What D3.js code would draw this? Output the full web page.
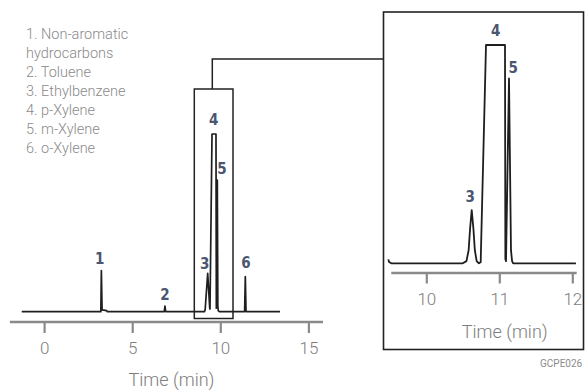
<!DOCTYPE html>
<html>
<head>
<meta charset="utf-8">
<script src="https://cdn.jsdelivr.net/npm/d3@7"></script>
<style>
  html, body { margin: 0; padding: 0; background: #fff; }
  svg { display: block; }
</style>
</head>
<body>
<svg id="chart" width="588" height="391"></svg>
<script>
// Compound list
const compounds = [
  "1. Non-aromatic",
  "hydrocarbons",
  "2. Toluene",
  "3. Ethylbenzene",
  "4. p-Xylene",
  "5. m-Xylene",
  "6. o-Xylene"
];

// Full chromatogram trace: [time (min), detector signal]
const fullTrace = [
  [-1.27, 0], [3.22, 0], [3.25, 23.1], [3.29, 1], [3.55, 0.6], [3.58, 0],
  [6.82, 0], [6.86, 3.2], [6.90, 0],
  [9.10, 0], [9.14, 1], [9.285, 21.6], [9.40, 2], [9.415, 1.5],
  [9.53, 100], [9.755, 100], [9.775, 2], [9.80, 3], [9.83, 74.1], [9.86, 3], [9.89, 0.5], [9.95, 0],
  [11.38, 0], [11.42, 19.7], [11.46, 0],
  [13.39, 0]
];

// Expanded xylene region trace: [time (min), detector signal]
const zoomTrace = [
  [9.48, 1.8], [9.49, 0.6], [9.52, 0],
  [10.50, 0], [10.55, 1], [10.58, 6], [10.60, 16], [10.622, 24.4], [10.645, 16], [10.665, 6], [10.69, 1], [10.72, 0],
  [10.745, 0.5], [10.818, 100], [11.078, 100], [11.083, 2], [11.092, 1],
  [11.133, 84.7], [11.16, 6], [11.175, 1], [11.19, 0],
  [12.05, 0]
];

// Peak labels: [label, time, signal at label baseline]
const fullPeakLabels = [
  ["1", 3.16, 27.0], ["2", 6.86, 6.5], ["3", 9.12, 24.2],
  ["4", 9.63, 104.8], ["5", 10.10, 77.7], ["6", 11.46, 24.6]
];
const zoomPeakLabels = [
  ["3", 10.60, 28.2], ["4", 10.95, 104.3], ["5", 11.19, 87.3]
];

const fullTicks = [0, 5, 10, 15];
const zoomTicks = [10, 11, 12];
const axisTitle = "Time (min)";
const figureCode = "GCPE026";

const svg = d3.select("#chart");
const labelFont = "'Roboto', 'Liberation Sans', sans-serif";
const peakFont = "'Liberation Sans Narrow', 'DejaVu Sans Condensed', sans-serif";
const traceColor = "#1e1e1e";
const axisColor = "#8a8a8a";
const textColor = "#7d7d7d";
const peakColor = "#4b5670";

// ---------- Full chromatogram ----------
const xFull = d3.scaleLinear().domain([0, 15]).range([44.1, 308.4]);
const yFull = d3.scaleLinear().domain([0, 100]).range([311.7, 134]);

const fullAxis = d3.axisBottom(xFull).tickValues(fullTicks).tickSize(11).tickPadding(9).tickFormat(d3.format("d"));
const gFullAxis = svg.append("g").attr("transform", "translate(0,322)").call(fullAxis);
gFullAxis.select(".domain").remove();
gFullAxis.selectAll(".tick line").attr("stroke", axisColor).attr("stroke-width", 2.2);
gFullAxis.selectAll(".tick text")
  .attr("fill", textColor).attr("font-family", labelFont).attr("font-weight", 300)
  .attr("font-size", 17);
gFullAxis.append("line")
  .attr("x1", xFull(-1.94)).attr("x2", xFull(15.83)).attr("y1", 0).attr("y2", 0)
  .attr("stroke", axisColor).attr("stroke-width", 2.4);

svg.append("text")
  .attr("x", (xFull(-1.94) + xFull(15.83)) / 2 + 5).attr("y", 386)
  .attr("text-anchor", "middle").attr("fill", textColor)
  .attr("font-family", labelFont).attr("font-weight", 300).attr("font-size", 18)
  .text(axisTitle);

const lineFull = d3.line().x(d => xFull(d[0])).y(d => yFull(d[1]));
svg.append("path").datum(fullTrace)
  .attr("d", lineFull).attr("fill", "none")
  .attr("stroke", traceColor).attr("stroke-width", 1.7).attr("stroke-linejoin", "round");

svg.selectAll("text.fullpeak").data(fullPeakLabels).join("text")
  .attr("class", "fullpeak")
  .attr("x", d => xFull(d[1])).attr("y", d => yFull(d[2]))
  .attr("text-anchor", "middle").attr("fill", peakColor)
  .attr("font-family", peakFont).attr("font-weight", 700).attr("font-size", 15)
  .text(d => d[0]);

// Highlight box around the xylene cluster and its connector to the expanded view
svg.append("rect")
  .attr("x", 194.3).attr("y", 89).attr("width", 38.7).attr("height", 229.5)
  .attr("fill", "none").attr("stroke", "#222").attr("stroke-width", 1.5);
svg.append("path")
  .attr("d", "M212.3,89 V59 H383.5")
  .attr("fill", "none").attr("stroke", "#222").attr("stroke-width", 1.5);

// ---------- Expanded view ----------
svg.append("rect")
  .attr("x", 383.5).attr("y", 12).attr("width", 200).attr("height", 337.5)
  .attr("fill", "#fff").attr("stroke", "#222").attr("stroke-width", 1.6);

const xZoom = d3.scaleLinear().domain([10, 12]).range([426.3, 572.3]);
const yZoom = d3.scaleLinear().domain([0, 100]).range([263.3, 45]);

const zoomAxis = d3.axisBottom(xZoom).tickValues(zoomTicks).tickSize(10.5).tickPadding(9).tickFormat(d3.format("d"));
const gZoomAxis = svg.append("g").attr("transform", "translate(0,273)").call(zoomAxis);
gZoomAxis.select(".domain").remove();
gZoomAxis.selectAll(".tick line").attr("stroke", axisColor).attr("stroke-width", 2.2);
gZoomAxis.selectAll(".tick text")
  .attr("fill", textColor).attr("font-family", labelFont).attr("font-weight", 300)
  .attr("font-size", 17);
gZoomAxis.append("line")
  .attr("x1", xZoom(9.52)).attr("x2", xZoom(12.06)).attr("y1", 0).attr("y2", 0)
  .attr("stroke", axisColor).attr("stroke-width", 2.4);

svg.append("text")
  .attr("x", 504.7).attr("y", 337.5)
  .attr("text-anchor", "middle").attr("fill", textColor)
  .attr("font-family", labelFont).attr("font-weight", 300).attr("font-size", 18)
  .text(axisTitle);

const lineZoom = d3.line().x(d => xZoom(d[0])).y(d => yZoom(d[1]));
svg.append("path").datum(zoomTrace)
  .attr("d", lineZoom).attr("fill", "none")
  .attr("stroke", traceColor).attr("stroke-width", 1.8).attr("stroke-linejoin", "round");

svg.selectAll("text.zoompeak").data(zoomPeakLabels).join("text")
  .attr("class", "zoompeak")
  .attr("x", d => xZoom(d[1])).attr("y", d => yZoom(d[2]))
  .attr("text-anchor", "middle").attr("fill", peakColor)
  .attr("font-family", peakFont).attr("font-weight", 700).attr("font-size", 15)
  .text(d => d[0]);

// ---------- Compound list ----------
svg.append("g").selectAll("text").data(compounds).join("text")
  .attr("x", 26).attr("y", (d, i) => 39 + i * 18.95)
  .attr("fill", "#8a8a8a").attr("font-family", labelFont).attr("font-weight", 300)
  .attr("font-size", 14.5)
  .text(d => d);

// Figure code
svg.append("text")
  .attr("x", 540).attr("y", 367)
  .attr("fill", "#8a8a8a").attr("font-family", labelFont).attr("font-size", 10)
  .text(figureCode);
</script>
</body>
</html>
